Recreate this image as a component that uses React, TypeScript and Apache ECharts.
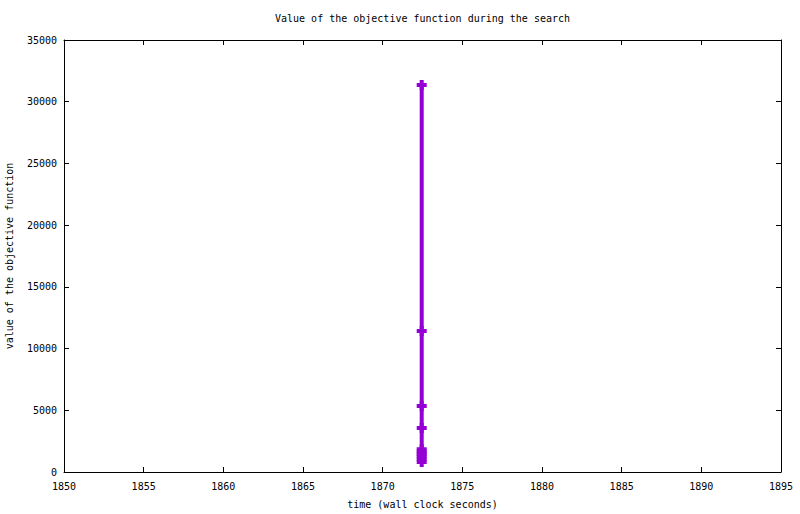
import React, { useEffect, useRef } from 'react'
import * as echarts from 'echarts'

// wall clock seconds and objective value
const times = [1872.45, 1872.45, 1872.45, 1872.45, 1872.45, 1872.45, 1872.45, 1872.45, 1872.45, 1872.45]
const values = [31350, 11420, 5350, 3560, 1850, 1650, 1450, 1250, 1050, 820]

const xTicks = { min: 1850, max: 1895, interval: 5 }
const yTicks = { min: 0, max: 35000, interval: 5000 }

const FONT = 'DejaVu Sans Mono'
const PURPLE = '#9400d3'

const App: React.FC = () => {
  const chartRef = useRef<HTMLDivElement>(null)

  useEffect(() => {
    document.body.style.margin = '0'
    if (!chartRef.current) return
    const chart = echarts.init(chartRef.current, undefined, { renderer: 'svg' })

    const textStyle = { fontFamily: FONT, fontSize: 10, color: '#000' }
    const tickIn = { show: true, inside: true, length: 5, lineStyle: { color: '#000', width: 1 } }
    const line = { show: true, onZero: false, lineStyle: { color: '#000', width: 1 } }
    const plain = (v: number) => String(v)

    const option = {
      animation: false,
      backgroundColor: '#fff',
      // title is centred over the plot area, not the whole canvas
      title: {
        text: 'Value of the objective function during the search',
        left: 270,
        top: 8,
        textStyle: { ...textStyle, fontWeight: 'normal' }
      },
      grid: { left: 64, right: 19, top: 40, bottom: 42, containLabel: false, outerBoundsMode: 'none' },
      xAxis: [
        {
          type: 'value',
          ...xTicks,
          position: 'bottom',
          name: 'time (wall clock seconds)',
          nameLocation: 'middle',
          nameGap: 27,
          nameTextStyle: textStyle,
          axisLine: line,
          axisTick: tickIn,
          axisLabel: { ...textStyle, margin: 9, formatter: plain },
          splitLine: { show: false }
        },
        {
          type: 'value',
          ...xTicks,
          position: 'top',
          axisLine: line,
          axisTick: tickIn,
          axisLabel: { show: false },
          splitLine: { show: false }
        }
      ],
      yAxis: [
        {
          type: 'value',
          ...yTicks,
          position: 'left',
          name: 'value of the objective function',
          nameLocation: 'middle',
          nameGap: 50,
          nameTextStyle: textStyle,
          axisLine: line,
          axisTick: tickIn,
          axisLabel: { ...textStyle, margin: 7, formatter: plain },
          splitLine: { show: false }
        },
        {
          type: 'value',
          ...yTicks,
          position: 'right',
          axisLine: line,
          axisTick: tickIn,
          axisLabel: { show: false },
          splitLine: { show: false }
        }
      ],
      series: [
        {
          type: 'line',
          data: times.map((t, i) => [t, values[i]]),
          lineStyle: { color: PURPLE, width: 4 },
          itemStyle: { color: PURPLE },
          symbol: 'path://M3,0H7V3H10V7H7V10H3V7H0V3H3Z',
          symbolSize: [10, 10],
          showSymbol: true
        }
      ]
    }

    chart.setOption(option)
    return () => {
      chart.dispose()
    }
  }, [])

  return <div ref={chartRef} style={{ width: 800, height: 514 }} />
}

export default App
